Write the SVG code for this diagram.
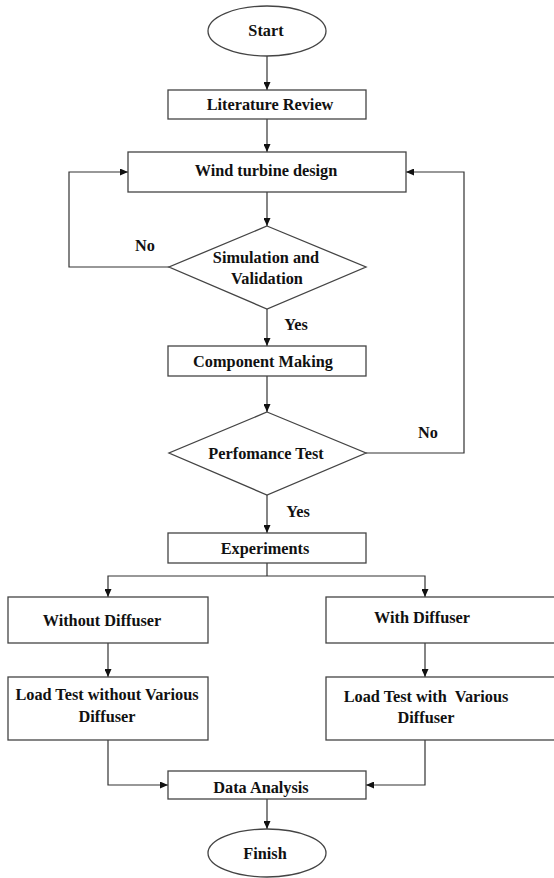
<svg xmlns="http://www.w3.org/2000/svg" width="554" height="878" viewBox="0 0 554 878">
<defs>
<marker id="ah" markerWidth="8" markerHeight="7" refX="8" refY="3.5" orient="auto" markerUnits="userSpaceOnUse">
<path d="M0,0 L8,3.5 L0,7 Z" fill="#111"/>
</marker>
<style>
.box{fill:#fff;stroke:#444;stroke-width:1.3}
.lbl{font-family:"Liberation Serif","Times New Roman",serif;font-weight:bold;font-size:16.3px;fill:#111;text-anchor:middle}
.con{fill:none;stroke:#333;stroke-width:1.2}
</style>
</defs>
<rect width="554" height="878" fill="#fff"/>
<g id="connectors">
<path class="con" d="M267,56 V90" marker-end="url(#ah)"/>
<path class="con" d="M267,119 V152" marker-end="url(#ah)"/>
<path class="con" d="M267,192 V226" marker-end="url(#ah)"/>
<path class="con" d="M169,267 H69 V172 H128" marker-end="url(#ah)"/>
<path class="con" d="M267,309 V346" marker-end="url(#ah)"/>
<path class="con" d="M267,376 V412" marker-end="url(#ah)"/>
<path class="con" d="M366,453 H464 V172 H406" marker-end="url(#ah)"/>
<path class="con" d="M267,495 V533" marker-end="url(#ah)"/>
<path class="con" d="M267,563 V576"/>
<path class="con" d="M267,576 H108 V597" marker-end="url(#ah)"/>
<path class="con" d="M267,576 H425 V597" marker-end="url(#ah)"/>
<path class="con" d="M108,643 V677" marker-end="url(#ah)"/>
<path class="con" d="M425,643 V677" marker-end="url(#ah)"/>
<path class="con" d="M108,740 V785 H168" marker-end="url(#ah)"/>
<path class="con" d="M425,740 V785 H366" marker-end="url(#ah)"/>
<path class="con" d="M267,799 V829" marker-end="url(#ah)"/>
<text class="lbl" x="145" y="251">No</text>
<text class="lbl" x="296" y="330">Yes</text>
<text class="lbl" x="428" y="438">No</text>
<text class="lbl" x="298" y="517">Yes</text>
</g>
<g id="start">
<ellipse class="box" cx="267" cy="31" rx="59" ry="25"/>
<text class="lbl" x="266" y="36">Start</text>
</g>
<g id="literature">
<rect class="box" x="168" y="90" width="198" height="29"/>
<text class="lbl" x="270" y="110">Literature Review</text>
</g>
<g id="design">
<rect class="box" x="128" y="152" width="278" height="40"/>
<text class="lbl" x="266" y="176">Wind turbine design</text>
</g>
<g id="simulation">
<polygon class="box" points="267,226 366,267 267,309 169,267"/>
<text class="lbl" x="266" y="263">Simulation and</text>
<text class="lbl" x="267" y="284">Validation</text>
</g>
<g id="component">
<rect class="box" x="168" y="346" width="198" height="30"/>
<text class="lbl" x="263" y="367">Component Making</text>
</g>
<g id="performance">
<polygon class="box" points="267,412 366,453 267,495 169,453"/>
<text class="lbl" x="266" y="459">Perfomance Test</text>
</g>
<g id="experiments">
<rect class="box" x="168" y="533" width="198" height="30"/>
<text class="lbl" x="265" y="554">Experiments</text>
</g>
<g id="without">
<rect class="box" x="8" y="597" width="200" height="46"/>
<text class="lbl" x="102" y="626">Without Diffuser</text>
</g>
<g id="with">
<rect class="box" x="326" y="597" width="240" height="46"/>
<text class="lbl" x="422" y="623">With Diffuser</text>
</g>
<g id="loadwithout">
<rect class="box" x="8" y="677" width="200" height="63"/>
<text class="lbl" x="107" y="700">Load Test without Various</text>
<text class="lbl" x="107" y="722">Diffuser</text>
</g>
<g id="loadwith">
<rect class="box" x="326" y="677" width="240" height="63"/>
<text class="lbl" x="426" y="702" xml:space="preserve">Load Test with  Various</text>
<text class="lbl" x="426" y="723">Diffuser</text>
</g>
<g id="analysis">
<rect class="box" x="168" y="771" width="198" height="28"/>
<text class="lbl" x="261" y="793">Data Analysis</text>
</g>
<g id="finish">
<ellipse class="box" cx="267" cy="853" rx="59" ry="24"/>
<text class="lbl" x="265" y="859">Finish</text>
</g>
</svg>
